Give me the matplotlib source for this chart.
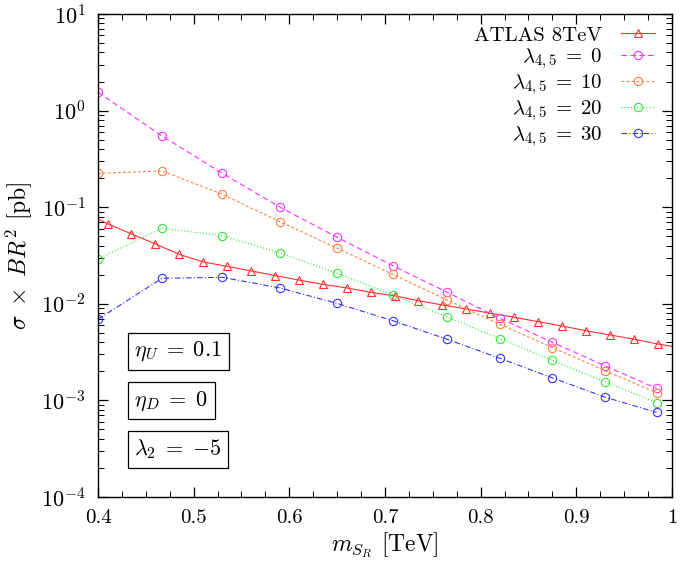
import matplotlib
matplotlib.use("Agg")
import matplotlib.pyplot as plt
from matplotlib.ticker import FixedLocator, FuncFormatter, LogLocator, NullFormatter, LogFormatterSciNotation

plt.rcParams['font.family'] = ['cmr10', 'DejaVu Serif']
plt.rcParams['mathtext.fontset'] = 'cm'
plt.rcParams['axes.formatter.use_mathtext'] = True

# ATLAS 8 TeV limit
atlas_x = [0.40, 0.41, 0.435, 0.46, 0.485, 0.51, 0.535, 0.56, 0.585, 0.61, 0.635, 0.66,
           0.685, 0.71, 0.735, 0.76, 0.785, 0.81, 0.835, 0.86, 0.885, 0.91, 0.935,
           0.96, 0.985, 1.0]
atlas_y = [0.0755, 0.0675, 0.0528, 0.0416, 0.0325, 0.0271, 0.0244, 0.0219, 0.0196, 0.0176,
           0.0159, 0.0146, 0.01315, 0.0121, 0.01076, 0.00972, 0.00884, 0.00798, 0.00725,
           0.00653, 0.00589, 0.00527, 0.00476, 0.0043, 0.00384, 0.00363]

# model points
mass = [0.40, 0.467, 0.53, 0.59, 0.65, 0.708, 0.765, 0.82, 0.875, 0.93, 0.984]
lam0 = [1.55, 0.546, 0.224, 0.1005, 0.0488, 0.0248, 0.01315, 0.00708, 0.00399, 0.00228, 0.00133]
lam10 = [0.224, 0.237, 0.136, 0.0708, 0.0376, 0.0202, 0.01094, 0.00614, 0.00352, 0.00203, 0.00120]
lam20 = [0.0291, 0.0605, 0.0507, 0.0336, 0.0207, 0.0124, 0.0073, 0.00436, 0.0026, 0.00156, 0.00095]
lam30 = [0.00692, 0.01837, 0.0188, 0.0146, 0.0101, 0.00668, 0.00429, 0.00273, 0.00171, 0.00108, 0.00075]

labels = ['ATLAS 8TeV', r'$\lambda_{4,5}\;=\;0$', r'$\lambda_{4,5}\;=\;10$',
          r'$\lambda_{4,5}\;=\;20$', r'$\lambda_{4,5}\;=\;30$']
box_texts = [r'$\eta_U\;=\;0.1$', r'$\eta_D\;=\;0$', r'$\lambda_2\;=\;{-5}$']

fig = plt.figure(figsize=(6.82, 5.65), dpi=100)
ax = fig.add_axes([0.1437, 0.1204, 0.8416, 0.8548])

lw = 0.8
ax.plot(atlas_x, atlas_y, color='#ff3030', lw=lw, ls='-', marker='^', ms=5.5,
        mfc='none', mec='#ff3030', mew=0.8, markevery=list(range(1, len(atlas_x) - 1)),
        label=labels[0])
ax.plot(mass, lam0, color='#ff30ff', lw=lw, ls=(0, (5, 3)), marker='o', ms=6,
        mfc='none', mew=0.8, label=labels[1])
ax.plot(mass, lam10, color='#ff7f40', lw=lw, ls=(0, (2.5, 2)), marker='o', ms=6,
        mfc='none', mew=0.8, label=labels[2])
ax.plot(mass, lam20, color='#30e830', lw=lw, ls=(0, (1, 1.8)), marker='o', ms=6,
        mfc='none', mew=0.8, label=labels[3])
ax.plot(mass, lam30, color='#3333ff', lw=lw, ls=(0, (5, 2, 1, 2)), marker='o', ms=6,
        mfc='none', mew=0.8, label=labels[4])

ax.set_yscale('log')
ax.set_xlim(0.4, 1.0)
ax.set_ylim(1e-4, 1e1)

ax.xaxis.set_major_locator(FixedLocator([0.4, 0.5, 0.6, 0.7, 0.8, 0.9, 1.0]))
ax.xaxis.set_minor_locator(FixedLocator([0.4 + 0.025 * i for i in range(25)]))
ax.xaxis.set_major_formatter(FuncFormatter(lambda v, p: '%g' % round(v, 3)))
ax.yaxis.set_major_locator(LogLocator(base=10, numticks=10))
ax.yaxis.set_minor_locator(LogLocator(base=10, subs=range(2, 10), numticks=20))
ax.yaxis.set_minor_formatter(NullFormatter())
ax.yaxis.set_major_formatter(LogFormatterSciNotation())

ax.tick_params(which='both', direction='in', top=True, right=True, labelsize=15)
ax.tick_params(which='major', length=7, width=0.9)
ax.tick_params(which='minor', length=4, width=0.7)
ax.tick_params(axis='x', pad=9)
ax.tick_params(axis='y', pad=9, labelsize=16)
for s in ax.spines.values():
    s.set_linewidth(1.0)

ax.set_xlabel(r'$m_{S_R}$ [TeV]', fontsize=17, labelpad=2)
ax.set_ylabel(r'$\sigma\ \times\ BR^2$ [pb]', fontsize=17, labelpad=5)

leg = ax.legend(loc='upper right', bbox_to_anchor=(0.995, 1.005), frameon=False,
                markerfirst=False, fontsize=15, handlelength=1.6, handletextpad=0.9,
                labelspacing=0.05, borderpad=0.2)

for t, yy in zip(box_texts, [0.301, 0.199, 0.099]):
    ax.text(0.0635, yy, t, transform=ax.transAxes, fontsize=16, ha='left', va='center',
            bbox=dict(boxstyle='square,pad=0.3', fc='white', ec='black', lw=0.9))

fig.savefig('out.png', dpi=100)
